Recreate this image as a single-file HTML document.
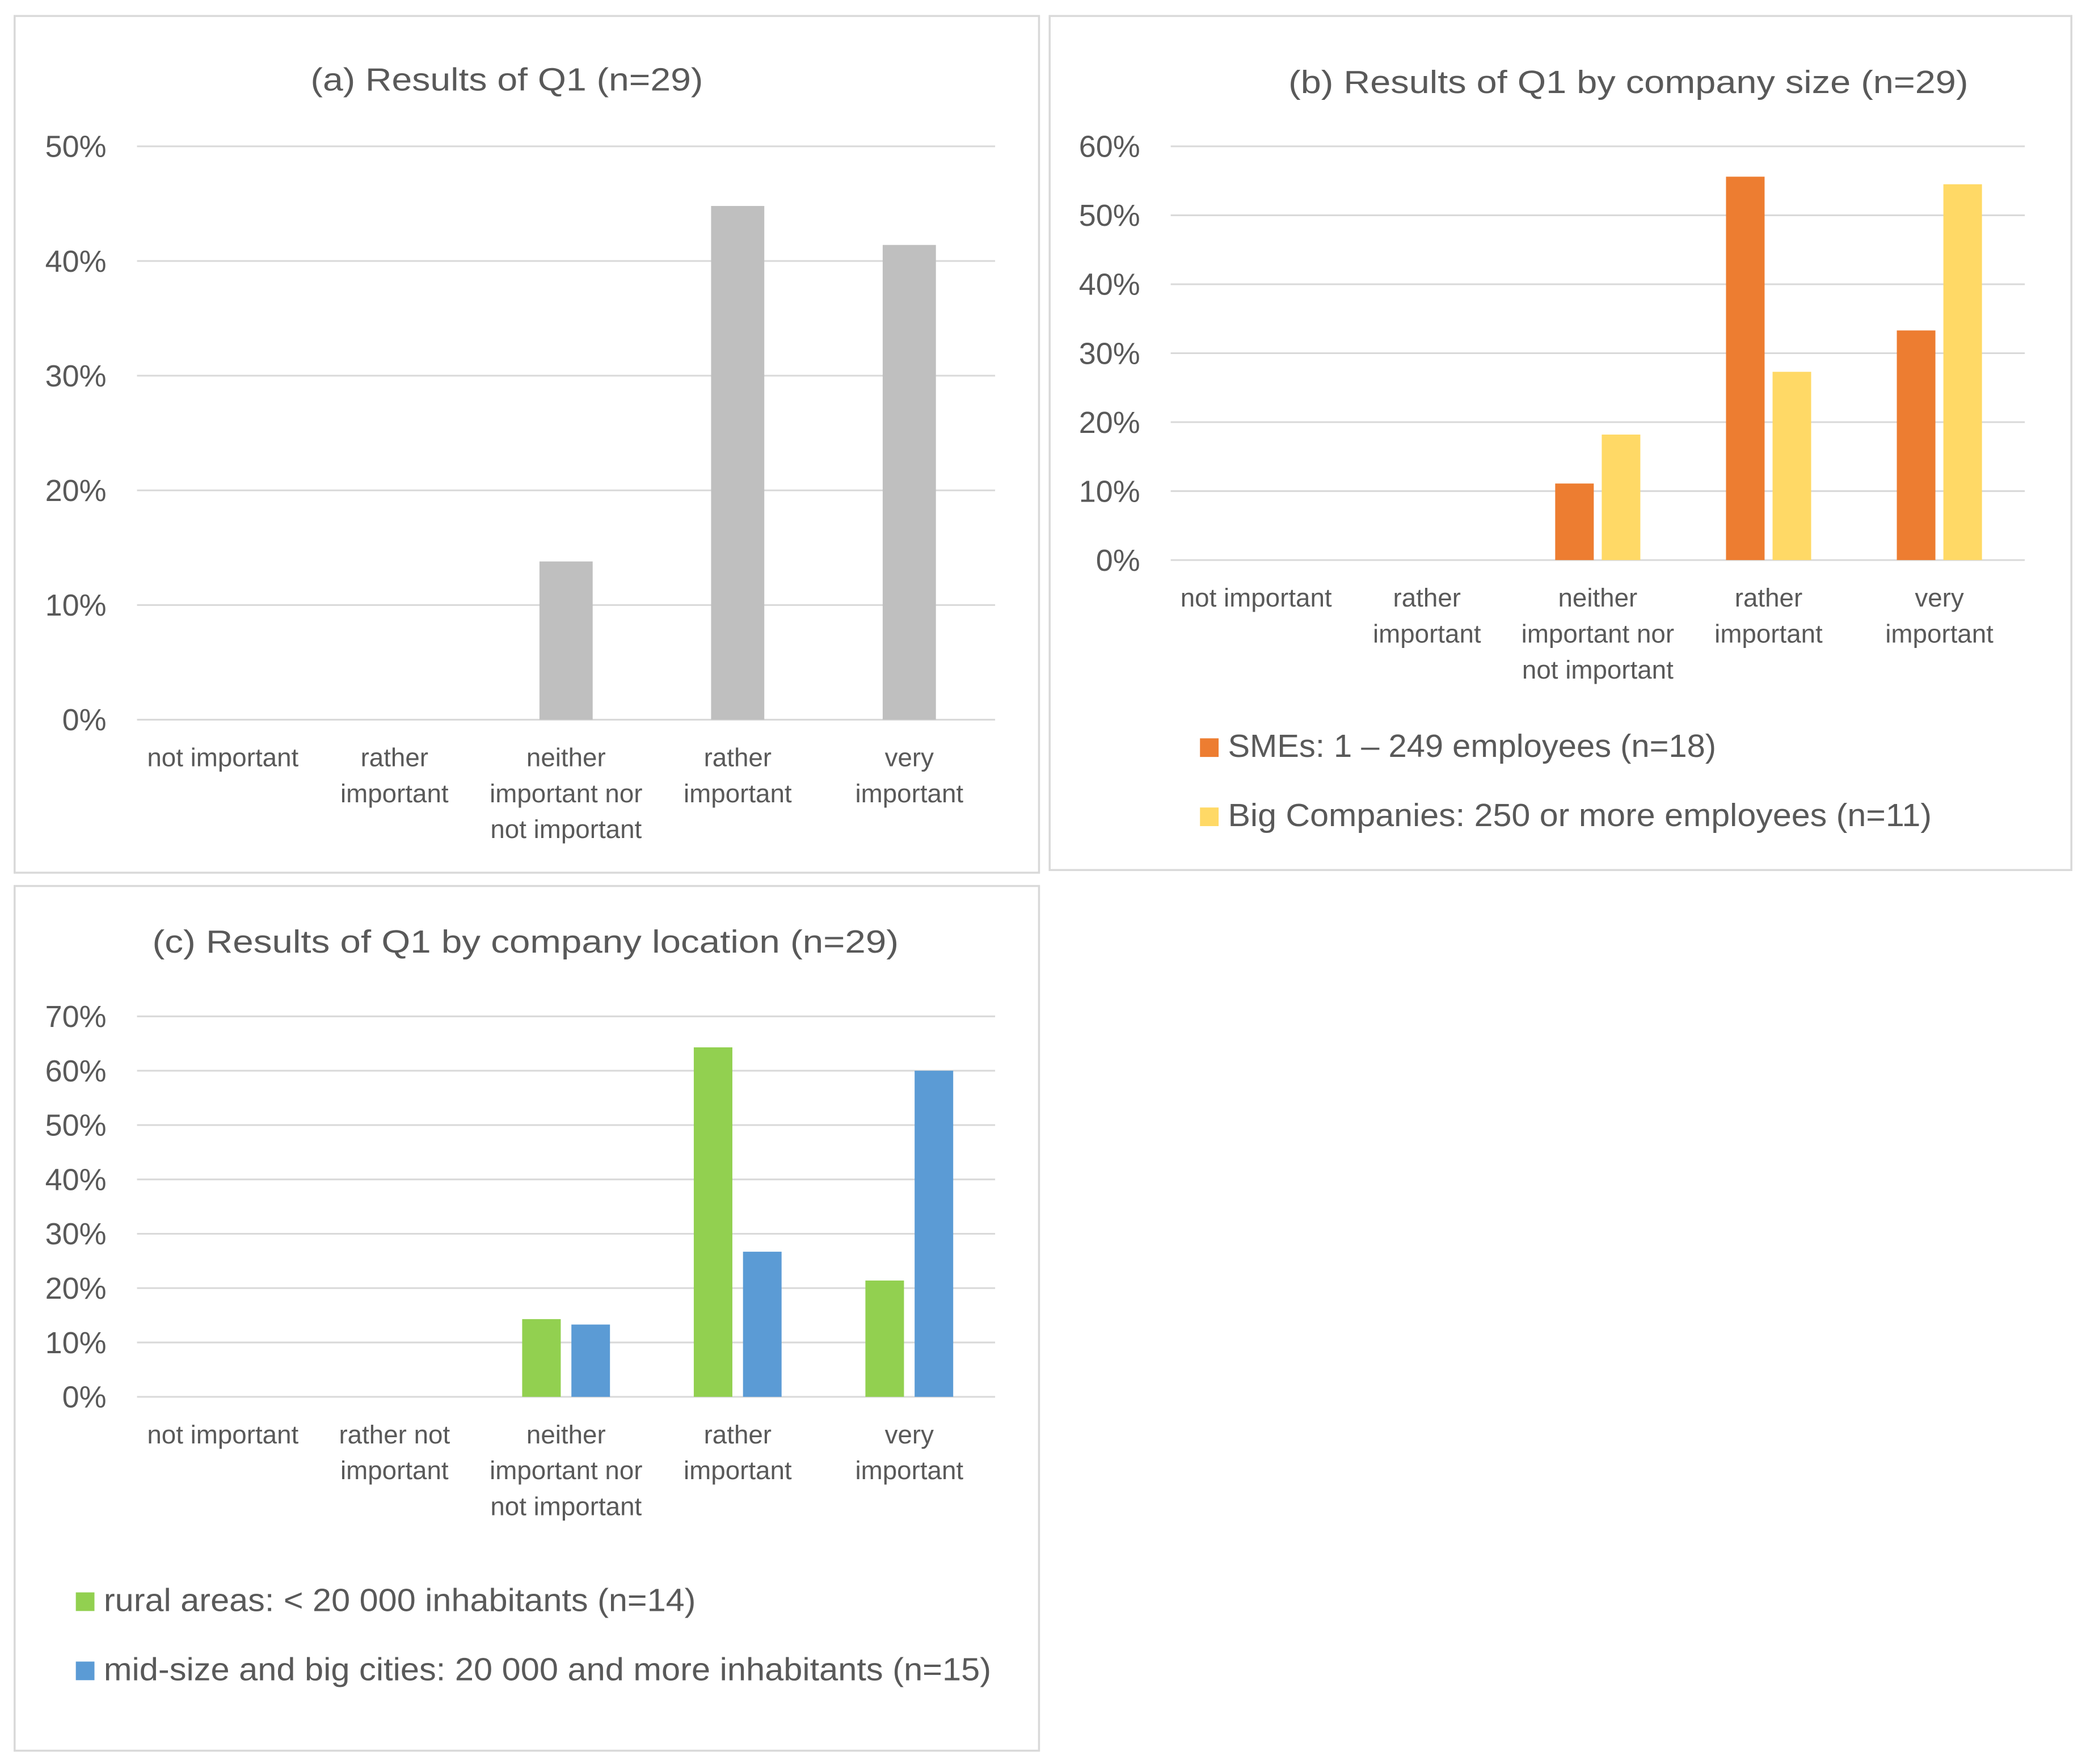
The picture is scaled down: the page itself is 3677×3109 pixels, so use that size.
<!DOCTYPE html>
<html><head><meta charset="utf-8"><style>
html,body{margin:0;padding:0;background:#fff}
svg{display:block}
text{font-family:"Liberation Sans",sans-serif;fill:#595959}
</style></head><body>
<svg id="chart" width="3677" height="3109" viewBox="0 0 1568 1326" preserveAspectRatio="none" xmlns="http://www.w3.org/2000/svg">
<rect x="0" y="0" width="1568" height="1326" fill="#fff"/>
</svg>
<script>
const catsA = [["not important"],["rather","important"],["neither","important nor","not important"],["rather","important"],["very","important"]];
const catsC = [["not important"],["rather not","important"],["neither","important nor","not important"],["rather","important"],["very","important"]];
const valsA = [0,0,13.8,44.8,41.4];
const valsSME = [0,0,11.1,55.6,33.3];
const valsBig = [0,0,18.2,27.3,54.5];
const valsRural = [0,0,14.3,64.3,21.4];
const valsCity = [0,0,13.3,26.7,60.0];
const ticksA = [0,10,20,30,40,50];
const ticksB = [0,10,20,30,40,50,60];
const ticksC = [0,10,20,30,40,50,60,70];
const legendB = ["SMEs: 1 \u2013 249 employees (n=18)","Big Companies: 250 or more employees (n=11)"];
const legendC = ["rural areas: < 20 000 inhabitants (n=14)","mid-size and big cities: 20 000 and more inhabitants (n=15)"];

const svg = document.getElementById('chart');
const NS = "http://www.w3.org/2000/svg";
function mk(tag, attrs, parent){const e=document.createElementNS(NS,tag);for(const k in attrs)e.setAttribute(k,attrs[k]);(parent||svg).appendChild(e);return e;}

function panel(cfg){
  const g = mk('g',{});
  
  
  const box = mk('rect',{x:cfg.bx,y:cfg.by,width:cfg.bw,height:cfg.bh,fill:'#fff',stroke:'#d9d9d9','stroke-width':1.5},g);
  
  
  const t = mk('text',{x:cfg.tx,y:cfg.ty,'font-size':24,'text-anchor':'middle',textLength:cfg.tw,lengthAdjust:'spacingAndGlyphs'},g);
  t.textContent = cfg.title;
  
  
  const maxV = cfg.ticks[cfg.ticks.length-1];
  const y = v => cfg.y0 - (v/maxV)*(cfg.y0-cfg.yTop);
  cfg.ticks.forEach(tk=>{
    const l = mk('line',{x1:cfg.x0,x2:cfg.x1,y1:y(tk),y2:y(tk),stroke:'#d9d9d9','stroke-width':1.3},g);
    
    
    const tl = mk('text',{x:cfg.x0-23,y:y(tk)+8,'font-size':23,'text-anchor':'end'},g);
    tl.textContent = tk+'%';
    
    
  });
  const n = cfg.cats.length, cw = (cfg.x1-cfg.x0)/n;
  cfg.cats.forEach((c,i)=>{
    const cx = cfg.x0 + cw*(i+0.5);
    c.forEach((line,j)=>{
      const tl = mk('text',{x:cx,y:cfg.y0+35+j*27,'font-size':19.5,'text-anchor':'middle'},g);
      tl.textContent = line;
      
      
    });
    const ns = cfg.series.length;
    cfg.series.forEach((s,k)=>{
      const v = s.vals[i];
      const bx = ns===1 ? cx - cfg.bw2/2 : (k===0 ? cx-cfg.gap/2-cfg.bw2 : cx+cfg.gap/2);
      const r = mk('rect',{x:bx,y:y(v),width:cfg.bw2,height:cfg.y0-y(v),fill:s.color},g);
      
      
    });
  });
  if(cfg.legend){
    cfg.legend.forEach((lab,k)=>{
      const ly = cfg.ly + k*52;
      const sq = mk('rect',{x:cfg.lx,y:ly-14,width:14,height:14,fill:cfg.series[k].color},g);
      
      
      const lt = mk('text',{x:cfg.lx+21,y:ly,'font-size':24,textLength:cfg.lw[k],lengthAdjust:'spacingAndGlyphs'},g);
      lt.textContent = lab;
      
      
    });
  }
}

panel({name:'panel-a',bx:11,by:12,bw:770,bh:644,title:'(a) Results of Q1 (n=29)',tx:381,ty:68,tw:295,
  x0:103,x1:748,y0:541,yTop:110,ticks:ticksA,cats:catsA,bw2:40,gap:6,
  series:[{key:'all',vals:valsA,color:'#bfbfbf'}]});
panel({name:'panel-b',bx:789,by:12,bw:768,bh:642,title:'(b) Results of Q1 by company size (n=29)',tx:1224,ty:70,tw:511,
  x0:880,x1:1522,y0:421,yTop:110,ticks:ticksB,cats:catsA,bw2:29,gap:6,
  series:[{key:'sme',vals:valsSME,color:'#ed7d31'},{key:'big',vals:valsBig,color:'#ffd966'}],
  legend:legendB,lx:902,ly:569,lw:[367,529]});
panel({name:'panel-c',bx:11,by:666,bw:770,bh:650,title:'(c) Results of Q1 by company location (n=29)',tx:395,ty:716,tw:561,
  x0:103,x1:748,y0:1050,yTop:764,ticks:ticksC,cats:catsC,bw2:29,gap:8,
  series:[{key:'rural',vals:valsRural,color:'#92d050'},{key:'city',vals:valsCity,color:'#5b9bd5'}],
  legend:legendC,lx:57,ly:1211,lw:[445,667]});
</script>
</body></html>
